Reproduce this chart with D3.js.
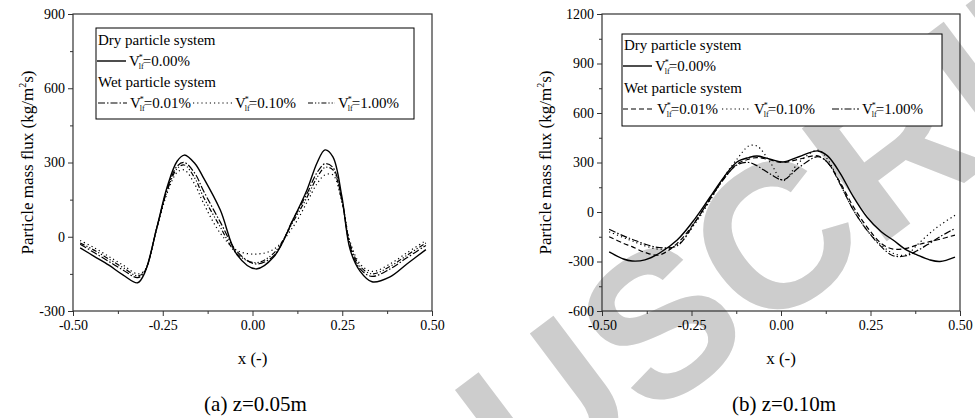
<!DOCTYPE html>
<html>
<head>
<meta charset="utf-8">
<script src="https://cdn.jsdelivr.net/npm/d3@7"></script>
<style>
  body { margin: 0; background: #fff; }
  svg text { font-family: "Liberation Serif", "Times New Roman", serif; fill: #000; }
</style>
</head>
<body>
<div id="chart"></div>
<script>
const width = 975; // Canvas width
const height = 418; // Canvas height

// Panel (a) z=0.05m
const xA = [-0.48, -0.44, -0.40, -0.36, -0.32, -0.30, -0.266, -0.238, -0.21, -0.19, -0.16, -0.138, -0.09, -0.043,
    0.01, 0.06, 0.113, 0.152, 0.18, 0.202, 0.224, 0.249, 0.272, 0.30, 0.333, 0.383, 0.43, 0.483];
const dryA = [-45, -80, -115, -155, -186, -145, 40, 200, 305, 330, 295, 242, 109, -73,
    -130, -80, 69, 190, 299, 351, 323, 162, -52, -140, -182, -162, -110, -52];
const wet001A = [-30, -65, -100, -135, -165, -140, 40, 190, 285, 300, 255, 190, 60, -60,
    -110, -75, 70, 175, 260, 295, 280, 150, -40, -130, -160, -130, -85, -35];
const wet010A = [-15, -45, -80, -115, -150, -135, 35, 175, 260, 270, 210, 140, 15, -55,
    -70, -50, 40, 140, 215, 250, 250, 140, -20, -110, -140, -110, -65, -15];
const wet100A = [-25, -55, -90, -125, -158, -138, 40, 185, 275, 290, 235, 165, 40, -70,
    -105, -65, 60, 160, 240, 280, 270, 145, -30, -120, -150, -120, -75, -25];

// Panel (b) z=0.10m
const xB = [-0.48, -0.44, -0.416, -0.38, -0.34, -0.29, -0.24, -0.198, -0.16, -0.123, -0.09, -0.067, -0.03,
    0.006, 0.05, 0.103, 0.13, 0.165, 0.20, 0.24, 0.28, 0.313, 0.35, 0.38, 0.415, 0.444, 0.486];
const dryB = [-242, -285, -297, -290, -250, -170, -40, 91, 210, 303, 330, 339, 320,
    303, 335, 370, 340, 236, 100, -30, -120, -170, -230, -260, -290, -300, -273];
const wet001B = [-150, -190, -210, -245, -260, -190, -60, 80, 200, 290, 320, 330, 315,
    300, 320, 340, 300, 180, 40, -90, -190, -225, -220, -200, -180, -165, -140];
const wet010B = [-120, -155, -175, -205, -225, -200, -70, 70, 210, 320, 400, 400, 300,
    190, 300, 375, 320, 170, 20, -110, -200, -250, -260, -200, -130, -80, -20];
const wet100B = [-105, -145, -165, -195, -215, -205, -60, 80, 200, 285, 300, 280, 230,
    195, 270, 335, 300, 170, 20, -110, -210, -265, -265, -235, -190, -150, -100];

const xTicks = [-0.5, -0.25, 0, 0.25, 0.5];
const yTicksA = [-300, 0, 300, 600, 900];
const yTicksB = [-600, -300, 0, 300, 600, 900, 1200];

const styles = {
    solid: null,
    dashdot: "7,2,1.5,2",
    dot: "1.2,3",
    dashdotdot: "5,2,1.2,2,1.2,2",
    dash: "5,3"
};

const serif = "'Liberation Serif', 'Times New Roman', serif";

const svg = d3.select("#chart")
    .append("svg")
    .attr("width", width)
    .attr("height", height);

// Watermark
svg.append("text")
    .attr("transform", "translate(530,510) rotate(-37)")
    .style("font-family", "'Liberation Sans', Arial, sans-serif")
    .attr("font-weight", "bold")
    .attr("font-size", 205)
    .style("fill", "#cdcdcd")
    .text("USCRIPT");

function panel(opts) {
    const { left, right, top, bottom, yDomain, yTicks, xs, series, legend, caption, titleX } = opts;
    const x = d3.scaleLinear().domain([-0.5, 0.5]).range([left, right]);
    const y = d3.scaleLinear().domain(yDomain).range([bottom, top]);
    const g = svg.append("g");

    // Minor ticks
    const xMinor = [-0.375, -0.125, 0.125, 0.375];
    const yMinor = d3.range(yDomain[0], yDomain[1] + 1, 150).filter(v => v % 300 !== 0);

    g.append("g")
        .attr("transform", `translate(0,${bottom})`)
        .call(d3.axisBottom(x).tickValues(xMinor).tickSize(3).tickFormat(""))
        .call(a => a.select(".domain").remove());
    g.append("g")
        .attr("transform", `translate(${left},0)`)
        .call(d3.axisLeft(y).tickValues(yMinor).tickSize(3).tickFormat(""))
        .call(a => a.select(".domain").remove());

    const xAxis = g.append("g")
        .attr("transform", `translate(0,${bottom})`)
        .call(d3.axisBottom(x).tickValues(xTicks).tickSize(5).tickPadding(4).tickFormat(d => d.toFixed(2)));
    xAxis.select(".domain").remove();
    xAxis.attr("font-family", null).style("font-family", serif);
    xAxis.selectAll("text").attr("font-size", 14).style("font-family", serif);

    const yAxis = g.append("g")
        .attr("transform", `translate(${left},0)`)
        .call(d3.axisLeft(y).tickValues(yTicks).tickSize(5).tickPadding(3).tickFormat(d => String(d)));
    yAxis.select(".domain").remove();
    yAxis.attr("font-family", null).style("font-family", serif);
    yAxis.selectAll("text").attr("font-size", 14).style("font-family", serif);
    g.selectAll(".tick line").attr("stroke", "#333");

    // Frame
    g.append("rect")
        .attr("x", left).attr("y", top)
        .attr("width", right - left).attr("height", bottom - top)
        .attr("fill", "none").attr("stroke", "#333").attr("stroke-width", 1.2);

    // Curves
    const line = d3.line()
        .x((d, i) => x(xs[i]))
        .y(d => y(d))
        .curve(d3.curveCatmullRom.alpha(0.5));
    series.forEach(s => {
        g.append("path")
            .attr("d", line(s.values))
            .attr("fill", "none")
            .attr("stroke", "#000")
            .attr("stroke-width", s.dash ? 1.2 : 1.4)
            .attr("stroke-dasharray", s.dash);
    });

    // Legend
    const L = legend;
    g.append("rect")
        .attr("x", L.x).attr("y", L.y).attr("width", L.w).attr("height", L.h)
        .attr("fill", "#fff").attr("stroke", "#000").attr("stroke-width", 1);
    g.append("text").attr("x", L.x + 2).attr("y", L.rows[0]).attr("font-size", 15).text("Dry particle system");
    g.append("text").attr("x", L.x + 2).attr("y", L.rows[2]).attr("font-size", 15).text("Wet particle system");
    const items = [
        { s: series[0], x0: L.x + 1, x1: L.x + 30, row: 1 },
        { s: series[1], x0: L.items[0][0], x1: L.items[0][1], row: 3 },
        { s: series[2], x0: L.items[1][0], x1: L.items[1][1], row: 3 },
        { s: series[3], x0: L.items[2][0], x1: L.items[2][1], row: 3 }
    ];
    items.forEach(it => {
        const yy = L.rows[it.row] - 5;
        g.append("line")
            .attr("x1", it.x0).attr("x2", it.x1).attr("y1", yy).attr("y2", yy)
            .attr("stroke", "#000").attr("stroke-width", it.s.dash ? 1.2 : 1.4)
            .attr("stroke-dasharray", it.s.dash);
        const t = g.append("text").attr("x", it.x1 + 3).attr("y", L.rows[it.row]).attr("font-size", 15);
        t.append("tspan").text("V");
        t.append("tspan").attr("font-size", 8).attr("dy", -6).attr("dx", -1).text("*");
        t.append("tspan").attr("font-size", 8).attr("dy", 9).attr("dx", -4).text("lf");
        t.append("tspan").attr("dy", -3).attr("dx", -1).text("=" + it.s.label);
    });

    // Axis titles
    const ty = svg.append("text")
        .attr("transform", `translate(${titleX},${(top + bottom) / 2}) rotate(-90)`)
        .attr("text-anchor", "middle")
        .attr("font-size", 17);
    ty.append("tspan").text("Particle mass flux (kg/m");
    ty.append("tspan").attr("font-size", 10).attr("dy", -7).text("2");
    ty.append("tspan").attr("dy", 7).text("s)");

    svg.append("text")
        .attr("x", (left + right) / 2).attr("y", 364)
        .attr("text-anchor", "middle").attr("font-size", 17)
        .text("x (-)");
    svg.append("text")
        .attr("x", (left + right) / 2 + 3).attr("y", 411)
        .attr("text-anchor", "middle").attr("font-size", 21)
        .text(caption);
}

panel({
    left: 73, right: 432, top: 14, bottom: 311,
    yDomain: [-300, 900], yTicks: yTicksA, xs: xA,
    series: [
        { values: dryA, dash: styles.solid, label: "0.00%" },
        { values: wet001A, dash: styles.dashdot, label: "0.01%" },
        { values: wet010A, dash: styles.dot, label: "0.10%" },
        { values: wet100A, dash: styles.dashdotdot, label: "1.00%" }
    ],
    legend: { x: 96, y: 28, w: 318, h: 91, rows: [45, 66, 87, 108],
        items: [[98, 127], [193, 232], [308, 335]] },
    caption: "(a) z=0.05m",
    titleX: 33
});

panel({
    left: 602, right: 960, top: 14, bottom: 311,
    yDomain: [-600, 1200], yTicks: yTicksB, xs: xB,
    series: [
        { values: dryB, dash: styles.solid, label: "0.00%" },
        { values: wet001B, dash: styles.dash, label: "0.01%" },
        { values: wet010B, dash: styles.dot, label: "0.10%" },
        { values: wet100B, dash: styles.dashdot, label: "1.00%" }
    ],
    legend: { x: 622, y: 34, w: 320, h: 92, rows: [50, 71, 93, 114],
        items: [[623, 654], [722, 751], [832, 859]] },
    caption: "(b) z=0.10m",
    titleX: 551
});
</script>
</body>
</html>
